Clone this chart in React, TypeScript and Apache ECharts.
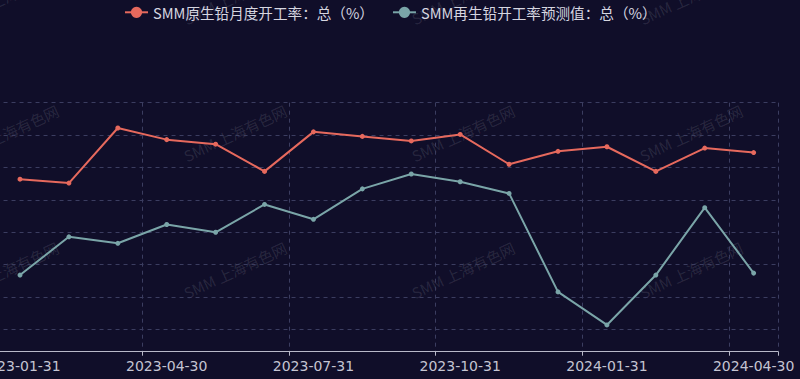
import React, { useEffect, useRef } from "react";
import * as echarts from "echarts";

const categories = [
  "2023-01-31", "2023-02-28", "2023-03-31", "2023-04-30", "2023-05-31", "2023-06-30",
  "2023-07-31", "2023-08-31", "2023-09-30", "2023-10-31", "2023-11-30", "2023-12-31",
  "2024-01-31", "2024-02-29", "2024-03-31", "2024-04-30",
];
const primaryLead = [63.2, 62.6, 71.1, 69.3, 68.6, 64.4, 70.5, 69.8, 69.1, 70.1, 65.5, 67.5, 68.2, 64.4, 68.0, 67.3];
const secondaryLead = [48.4, 54.3, 53.3, 56.2, 55.0, 59.3, 57.0, 61.7, 64.0, 62.8, 61.0, 45.8, 40.7, 48.4, 58.8, 48.7];
const seriesNames = ["SMM原生铅月度开工率：总（%）", "SMM再生铅开工率预测值：总（%）"];
const watermarkText = "SMM 上海有色网";
const wmXs = [7, 235, 463, 691];
const wmYs = [-4, 133, 270];

export default function App() {
  const ref = useRef<HTMLDivElement>(null);
  useEffect(() => {
    if (!ref.current) return;
    const chart = echarts.init(ref.current, undefined, { renderer: "svg" });
    const watermarks: any[] = [];
    wmYs.forEach((y) =>
      wmXs.forEach((x) =>
        watermarks.push({
          type: "text",
          x,
          y,
          rotation: (25 * Math.PI) / 180,
          z: 0,
          silent: true,
          style: {
            text: watermarkText,
            fill: "rgba(255,255,255,0.11)",
            fontSize: 15,
            fontFamily: "Noto Sans CJK SC",
            textAlign: "center",
            textVerticalAlign: "middle",
          },
        })
      )
    );
    chart.setOption({
      animation: false,
      backgroundColor: "#100e29",
      graphic: watermarks,
      legend: {
        left: 119,
        top: 0,
        itemWidth: 23,
        itemHeight: 14,
        itemGap: 18,
        textStyle: { color: "#d6d6e0", fontSize: 14.6, fontFamily: "Noto Sans CJK SC" },
        data: seriesNames,
      },
      grid: {
        left: -4.46,
        right: 21.9,
        top: 102.7,
        bottom: 27.3,
        containLabel: false,
        outerBoundsMode: "none",
      },
      xAxis: {
        type: "category",
        data: categories,
        boundaryGap: true,
        axisLine: { lineStyle: { color: "#b8b8c8", width: 1 } },
        axisTick: { show: true, length: 4, interval: 2, lineStyle: { color: "#b8b8c8" } },
        axisLabel: {
          interval: 2,
          color: "#c4c4d2",
          fontSize: 14,
          fontFamily: "DejaVu Sans",
          margin: 7,
          hideOverlap: false,
        },
        splitLine: {
          show: true,
          interval: 2,
          lineStyle: { color: "#3b3d60", type: [4, 4], width: 1 },
        },
      },
      yAxis: {
        type: "value",
        min: 36.57,
        max: 75,
        splitNumber: 8,
        axisLabel: { show: false },
        axisLine: { show: false },
        axisTick: { show: false },
        splitLine: { show: true, lineStyle: { color: "#3b3d60", type: [4, 4], width: 1 } },
      },
      series: [
        {
          name: seriesNames[0],
          type: "line",
          data: primaryLead,
          symbol: "circle",
          symbolSize: 5,
          z: 3,
          itemStyle: { color: "#e6695d" },
          lineStyle: { color: "#e6695d", width: 2 },
        },
        {
          name: seriesNames[1],
          type: "line",
          data: secondaryLead,
          symbol: "circle",
          symbolSize: 5,
          z: 3,
          itemStyle: { color: "#7aa5a8" },
          lineStyle: { color: "#7aa5a8", width: 2 },
        },
      ],
    });
    return () => chart.dispose();
  }, []);
  return <div ref={ref} style={{ width: 800, height: 379, position: "fixed", left: 0, top: 0 }} />;
}
